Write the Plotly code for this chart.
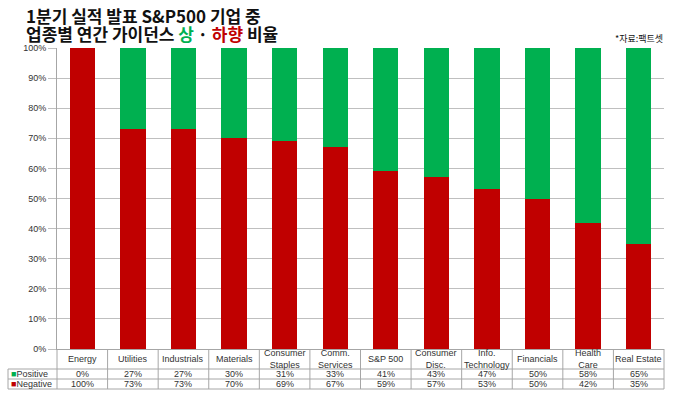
import plotly.graph_objects as go

categories = ["Energy", "Utilities", "Industrials", "Materials", "Consumer<br>Staples",
              "Comm.<br>Services", "S&P 500", "Consumer<br>Disc.", "Info.<br>Technology",
              "Financials", "Health<br>Care", "Real Estate"]
positive = [0, 27, 27, 30, 31, 33, 41, 43, 47, 50, 58, 65]
negative = [100, 73, 73, 70, 69, 67, 59, 57, 53, 50, 42, 35]
y_ticks = [0, 10, 20, 30, 40, 50, 60, 70, 80, 90, 100]

RED = "#c00000"
GREEN = "#00b050"
GRID = "#bfbfbf"
TXT = "#333333"
FONT = "Liberation Sans, Arial, sans-serif"

W, H = 680, 393
L, R, T, B = 57, 16, 48, 44
pw, ph = W - L - R, H - T - B

def px_x(px):
    return (px - L) / pw

def px_y(py):
    return (H - B - py) / ph

x_idx = list(range(len(categories)))

fig = go.Figure()
fig.add_trace(go.Bar(x=x_idx, y=negative, name="Negative", marker_color=RED,
                     marker_line_width=0))
fig.add_trace(go.Bar(x=x_idx, y=positive, name="Positive", marker_color=GREEN,
                     marker_line_width=0))

n = len(categories)
shapes = []
annots = []
line = dict(color="#a6a6a6", width=1)
leg_left = px_x(8)
y_top = px_y(349)
y_r1 = px_y(369)
y_r2 = px_y(379)
y_r3 = px_y(389)

for yy in (y_r1, y_r2, y_r3):
    shapes.append(dict(type="line", xref="paper", yref="paper", x0=leg_left, x1=1,
                       y0=yy, y1=yy, line=line))
for i in range(n + 1):
    shapes.append(dict(type="line", xref="paper", yref="paper", x0=i / n, x1=i / n,
                       y0=y_top, y1=y_r3, line=line))
shapes.append(dict(type="line", xref="paper", yref="paper", x0=leg_left, x1=leg_left,
                   y0=y_r1, y1=y_r3, line=line))

yc_cat = (y_top + y_r1) / 2
yc_pos = (y_r1 + y_r2) / 2
yc_neg = (y_r2 + y_r3) / 2
for i, c in enumerate(categories):
    xc = (i + 0.5) / n
    annots.append(dict(text=c, x=xc, y=yc_cat, xref="paper", yref="paper",
                       showarrow=False, font=dict(size=9, color=TXT, family=FONT),
                       yanchor="middle", xanchor="center"))
    annots.append(dict(text=f"{positive[i]}%", x=xc, y=yc_pos, xref="paper", yref="paper",
                       showarrow=False, font=dict(size=9, color=TXT, family=FONT),
                       yanchor="middle", xanchor="center"))
    annots.append(dict(text=f"{negative[i]}%", x=xc, y=yc_neg, xref="paper", yref="paper",
                       showarrow=False, font=dict(size=9, color=TXT, family=FONT),
                       yanchor="middle", xanchor="center"))

annots.append(dict(text=f"<span style='color:{GREEN}'>■</span>Positive", x=px_x(9), y=yc_pos,
                   xref="paper", yref="paper", showarrow=False, xanchor="left", yanchor="middle",
                   font=dict(size=9, color=TXT, family=FONT)))
annots.append(dict(text=f"<span style='color:{RED}'>■</span>Negative", x=px_x(9), y=yc_neg,
                   xref="paper", yref="paper", showarrow=False, xanchor="left", yanchor="middle",
                   font=dict(size=9, color=TXT, family=FONT)))

TFONT = "Noto Sans CJK KR"
annots.append(dict(text="<b>1분기 실적 발표 S&P500 기업 중</b>", x=px_x(24), y=px_y(15),
                   xref="paper", yref="paper", showarrow=False, xanchor="left", yanchor="middle",
                   font=dict(size=17, color="#111111", family=TFONT)))
annots.append(dict(text=f"<b>업종별 연간 가이던스 <span style='color:{GREEN}'>상</span> · "
                        f"<span style='color:{RED}'>하향</span> 비율</b>",
                   x=px_x(24), y=px_y(34),
                   xref="paper", yref="paper", showarrow=False, xanchor="left", yanchor="middle",
                   font=dict(size=17, color="#111111", family=TFONT)))
annots.append(dict(text="*자료:팩트셋", x=px_x(665), y=px_y(38),
                   xref="paper", yref="paper", showarrow=False, xanchor="right", yanchor="middle",
                   font=dict(size=9, color="#111111", family=TFONT)))

fig.update_layout(
    width=W, height=H,
    margin=dict(l=L, r=R, t=T, b=B),
    barmode="stack",
    bargap=0.5,
    showlegend=False,
    plot_bgcolor="white",
    paper_bgcolor="white",
    shapes=shapes,
    annotations=annots,
    xaxis=dict(range=[-0.5, n - 0.5], showticklabels=False, showgrid=False,
               showline=True, linecolor="#a6a6a6", linewidth=1, zeroline=False,
               fixedrange=True),
    yaxis=dict(range=[0, 100], tickvals=y_ticks, ticktext=[f"{v}%" for v in y_ticks],
               showgrid=True, gridcolor=GRID, gridwidth=1, showline=True,
               linecolor="#a6a6a6", linewidth=1, ticks="outside", ticklen=8,
               tickcolor=GRID, tickfont=dict(size=9, color=TXT, family=FONT),
               zeroline=False, fixedrange=True),
)

fig.write_html("out.html", config={"displayModeBar": False},
               post_script="document.body.style.margin='0';document.body.style.overflow='hidden';")
